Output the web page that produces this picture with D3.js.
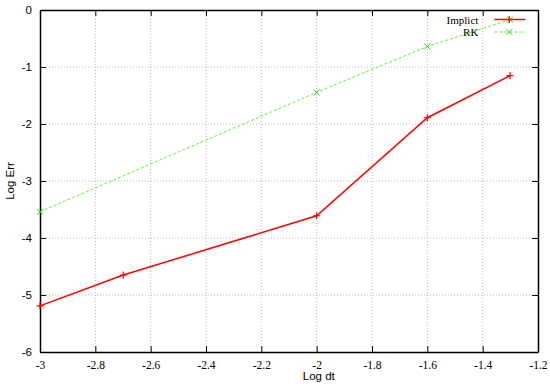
<!DOCTYPE html>
<html>
<head>
<meta charset="utf-8">
<script src="https://cdnjs.cloudflare.com/ajax/libs/d3/7.8.5/d3.min.js"></script>
<style>
body { margin: 0; background: white; }
</style>
</head>
<body>
<script>

// log10(dt) values and log10(error)
const implicitX = [-3, -2.699, -2, -1.6, -1.301];
const implicitY = [-5.19, -4.65, -3.61, -1.89, -1.15];
const rkX = [-3, -2, -1.6, -1.301];
const rkY = [-3.54, -1.445, -0.64, -0.17];
const xTicks = [-3, -2.8, -2.6, -2.4, -2.2, -2, -1.8, -1.6, -1.4, -1.2];
const yTicks = [0, -1, -2, -3, -4, -5, -6];

const W = 550, H = 388;
const margin = {top: 10, right: 12, bottom: 36, left: 40};
const width = W - margin.left - margin.right;
const height = H - margin.top - margin.bottom;

const svg = d3.select("body").append("svg")
  .attr("width", W).attr("height", H);
const g = svg.append("g").attr("transform", `translate(${margin.left},${margin.top})`);

const x = d3.scaleLinear().domain([-3, -1.2]).range([0, width]);
const y = d3.scaleLinear().domain([-6, 0]).range([height, 0]);

// grid
g.append("g").selectAll("line").data(xTicks.slice(1, -1)).enter().append("line")
  .attr("x1", d => x(d)).attr("x2", d => x(d))
  .attr("y1", 0).attr("y2", height)
  .attr("stroke", "#aaa").attr("stroke-width", 0.8).attr("stroke-dasharray", "1,2");
g.append("g").selectAll("line").data(yTicks.slice(1, -1)).enter().append("line")
  .attr("x1", 0).attr("x2", width)
  .attr("y1", d => y(d)).attr("y2", d => y(d))
  .attr("stroke", "#aaa").attr("stroke-width", 0.8).attr("stroke-dasharray", "1,2");

// axes, ticks pointing inward on all four sides
const fmt = d => String(d);
const xb = g.append("g").attr("transform", `translate(0,${height})`)
  .call(d3.axisBottom(x).tickValues(xTicks).tickFormat(fmt).tickSize(-6).tickPadding(9).tickSizeOuter(0));
xb.selectAll("text").attr("font-family", "Liberation Serif, serif").attr("font-size", 11.5);
const xt = g.append("g")
  .call(d3.axisTop(x).tickValues(xTicks).tickFormat("").tickSize(-6).tickSizeOuter(0));
const yl = g.append("g")
  .call(d3.axisLeft(y).tickValues(yTicks).tickFormat(fmt).tickSize(-6).tickPadding(8).tickSizeOuter(0));
yl.selectAll("text").attr("font-family", "Liberation Sans, Arial, sans-serif").attr("font-size", 11.5);
const yr = g.append("g").attr("transform", `translate(${width},0)`)
  .call(d3.axisRight(y).tickValues(yTicks).tickFormat("").tickSize(-6).tickSizeOuter(0));
[xb, xt, yl, yr].forEach(a => {
  a.select(".domain").attr("stroke", "#000").attr("stroke-width", 1.5);
  a.selectAll(".tick line").attr("stroke", "#000").attr("stroke-width", 1);
});

const line = d3.line().x(d => x(d[0])).y(d => y(d[1]));
const implicit = d3.zip(implicitX, implicitY);
const rk = d3.zip(rkX, rkY);

g.append("path").datum(implicit).attr("d", line)
  .attr("fill", "none").attr("stroke", "#ff0000").attr("stroke-width", 1.5);
g.append("path").datum(rk).attr("d", line)
  .attr("fill", "none").attr("stroke", "#66ee33").attr("stroke-width", 1).attr("stroke-dasharray", "3,2");

function drawPlus(sel, cx, cy, col) {
  sel.append("path").attr("d", `M${cx-3.5},${cy}H${cx+3.5}M${cx},${cy-3.5}V${cy+3.5}`)
    .attr("stroke", col).attr("stroke-width", 1.2);
}
function drawX(sel, cx, cy, col) {
  sel.append("path").attr("d", `M${cx-3},${cy-3}L${cx+3},${cy+3}M${cx-3},${cy+3}L${cx+3},${cy-3}`)
    .attr("stroke", col).attr("stroke-width", 1);
}
implicit.forEach(d => drawPlus(g, x(d[0]), y(d[1]), "#ff0000"));
rk.forEach(d => drawX(g, x(d[0]), y(d[1]), "#33cc22"));

// legend
const leg = g.append("g").attr("transform", `translate(${x(-1.3) - 1},0)`);
const names = ["Implict", "RK"];
names.forEach((n, i) => {
  const ly = 9.5 + i * 12.5;
  leg.append("text").attr("x", -31).attr("y", ly + 4).attr("text-anchor", "end")
    .attr("font-family", "Liberation Serif, serif").attr("font-size", 11).text(n);
  if (i === 0) {
    leg.append("line").attr("x1", -15).attr("x2", 16).attr("y1", ly).attr("y2", ly)
      .attr("stroke", "#ff0000").attr("stroke-width", 1.5);
    drawPlus(leg, 0, ly, "#ff0000");
  } else {
    leg.append("line").attr("x1", -15).attr("x2", 16).attr("y1", ly).attr("y2", ly)
      .attr("stroke", "#66ee33").attr("stroke-width", 1).attr("stroke-dasharray", "3,2");
    drawX(leg, 0, ly, "#33cc22");
  }
});

// axis titles
svg.append("text").attr("x", margin.left + x(-2.05)).attr("y", 380)
  .attr("font-family", "Liberation Sans, Arial, sans-serif").attr("font-size", 11.5).text("Log dt");
svg.append("text").attr("transform", `translate(14,${margin.top + y(-3)}) rotate(-90)`)
  .attr("text-anchor", "middle")
  .attr("font-family", "Liberation Sans, Arial, sans-serif").attr("font-size", 11.5).text("Log Err");

</script>
</body>
</html>
